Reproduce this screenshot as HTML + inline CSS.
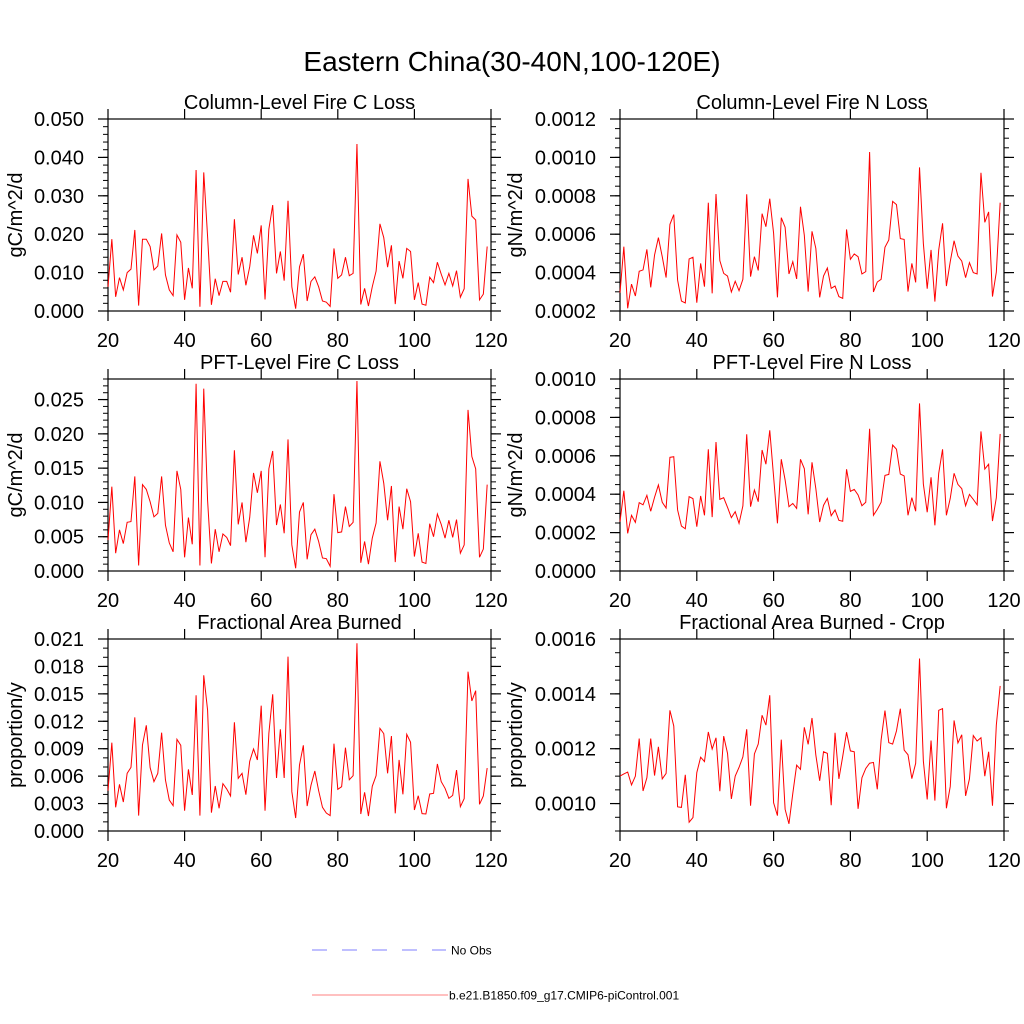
<!DOCTYPE html>
<html><head><meta charset="utf-8"><style>
body{margin:0;background:#fff}
svg{display:block;font-family:"Liberation Sans",sans-serif}
</style></head><body>
<svg id="c" width="1024" height="1024" viewBox="0 0 1024 1024">
<text x="512" y="71" font-size="28" text-anchor="middle">Eastern China(30-40N,100-120E)</text>
<g>
<line x1="312" y1="950" x2="446" y2="950" stroke="#7f7fff" stroke-width="1" stroke-dasharray="15,15"/>
<text x="451" y="954.5" font-size="12">No Obs</text>
<line x1="312" y1="995" x2="448" y2="995" stroke="#ff8080" stroke-width="1"/>
<text x="449" y="999.5" font-size="12">b.e21.B1850.f09_g17.CMIP6-piControl.001</text>
</g>
</svg>
<script>
const years = Array.from({length:100},(_,i)=>20+i);
const xTicks = [20,40,60,80,100,120];
const colCLoss = [0.0063,0.0187,0.0037,0.0087,0.0055,0.010,0.0109,0.0211,0.0014,0.0187,0.0187,0.0168,0.0107,0.0117,0.0202,0.0094,0.0055,0.004,0.0198,0.0179,0.0029,0.0112,0.0059,0.0367,0.0011,0.0361,0.0194,0.0016,0.0084,0.004,0.0077,0.0077,0.0049,0.0239,0.0095,0.014,0.0067,0.0115,0.0197,0.015,0.0223,0.003,0.0213,0.0276,0.0098,0.0155,0.0079,0.0287,0.0063,0.0006,0.0115,0.0148,0.0026,0.0077,0.0089,0.0063,0.0026,0.0023,0.0012,0.0163,0.0085,0.0094,0.014,0.0092,0.0098,0.0435,0.0017,0.0059,0.0013,0.0063,0.0104,0.0227,0.0191,0.0114,0.0171,0.0018,0.013,0.0085,0.0163,0.0155,0.0029,0.0074,0.0018,0.0015,0.0088,0.0074,0.0127,0.0096,0.0068,0.0098,0.0065,0.0105,0.0036,0.0058,0.0344,0.0247,0.0237,0.0029,0.0044,0.0168];
const colNLoss = [0.000295,0.000535,0.000214,0.00034,0.000278,0.000407,0.000414,0.000521,0.000323,0.000492,0.000582,0.000483,0.000374,0.000651,0.000702,0.000361,0.000252,0.000242,0.000471,0.00048,0.000243,0.000448,0.000327,0.000764,0.000292,0.000809,0.000462,0.000396,0.000382,0.000299,0.000355,0.000306,0.000365,0.000808,0.000379,0.000483,0.000411,0.000707,0.000639,0.000785,0.000605,0.000271,0.000686,0.000636,0.000393,0.000457,0.000367,0.000743,0.000594,0.000301,0.000615,0.000526,0.000271,0.000382,0.000424,0.000318,0.00033,0.000275,0.000266,0.000625,0.000469,0.000497,0.000483,0.000393,0.000405,0.001028,0.000299,0.000351,0.000365,0.000532,0.00057,0.000771,0.000754,0.000577,0.000573,0.000301,0.000448,0.000349,0.000948,0.000552,0.000316,0.000518,0.000249,0.000518,0.000657,0.00033,0.000457,0.000566,0.000486,0.00046,0.000374,0.000452,0.0004,0.000393,0.00092,0.000662,0.000716,0.000275,0.000403,0.000764];
const pftCLoss = [0.0045,0.0123,0.0026,0.006,0.004,0.0071,0.0072,0.0138,0.0008,0.0126,0.0119,0.0101,0.0079,0.0084,0.0138,0.0067,0.0041,0.0028,0.0146,0.0119,0.002,0.0078,0.0039,0.0273,0.0008,0.0266,0.0103,0.0011,0.0061,0.0028,0.0054,0.0049,0.0037,0.0176,0.0068,0.01,0.0042,0.0078,0.0143,0.0114,0.0146,0.002,0.0149,0.0175,0.0067,0.0097,0.0055,0.0192,0.0038,0.0004,0.0086,0.01,0.0017,0.0053,0.0061,0.0043,0.0019,0.0018,0.0007,0.0112,0.0056,0.0057,0.0094,0.0065,0.0071,0.0277,0.0012,0.0043,0.001,0.0048,0.007,0.016,0.0128,0.0074,0.0124,0.0013,0.0094,0.0061,0.012,0.0101,0.0021,0.0055,0.0013,0.0011,0.0069,0.005,0.0083,0.0068,0.0048,0.0074,0.0049,0.0075,0.0026,0.0038,0.0235,0.0167,0.0149,0.002,0.0032,0.0126];
const pftNLoss = [0.000257,0.000418,0.000196,0.00029,0.000253,0.000356,0.000345,0.000394,0.000311,0.000384,0.000448,0.000358,0.000328,0.000592,0.000595,0.000318,0.000234,0.00022,0.000387,0.000377,0.000231,0.000391,0.00029,0.000634,0.000281,0.000672,0.000373,0.000382,0.000332,0.000278,0.000309,0.000248,0.000339,0.000712,0.000335,0.000422,0.000361,0.00063,0.000556,0.000733,0.000491,0.000248,0.000582,0.000474,0.000335,0.000352,0.000326,0.000582,0.000533,0.000295,0.000566,0.000429,0.000255,0.000342,0.000378,0.000288,0.000318,0.000264,0.000259,0.00053,0.000415,0.000425,0.000396,0.00034,0.000358,0.000741,0.00029,0.000321,0.000358,0.000498,0.000503,0.000656,0.000634,0.000505,0.000495,0.00029,0.000382,0.000311,0.000873,0.000453,0.000306,0.000488,0.000238,0.000509,0.000634,0.00029,0.000378,0.000509,0.000451,0.000429,0.00034,0.000399,0.000373,0.000345,0.000727,0.000531,0.000556,0.00026,0.000382,0.000714];
const areaBurned = [0.00441,0.00966,0.00259,0.0051,0.00317,0.00631,0.00696,0.01243,0.00168,0.0094,0.01156,0.00693,0.0054,0.00631,0.01076,0.00558,0.00339,0.00277,0.01003,0.00937,0.00222,0.00674,0.00394,0.01484,0.00168,0.01703,0.01323,0.00201,0.00492,0.00248,0.00518,0.00459,0.00383,0.01189,0.00576,0.00631,0.00397,0.00762,0.00897,0.00777,0.01371,0.00222,0.01068,0.01495,0.0058,0.01112,0.0058,0.01907,0.0043,0.00142,0.00722,0.00937,0.00273,0.005,0.00656,0.00441,0.00259,0.00197,0.00168,0.00955,0.00456,0.00485,0.00911,0.00561,0.00605,0.02053,0.00186,0.00423,0.00164,0.00489,0.00605,0.01123,0.01065,0.00631,0.01039,0.00193,0.00777,0.00401,0.01057,0.0097,0.0023,0.00386,0.0019,0.00186,0.00405,0.00412,0.00733,0.0054,0.00467,0.00357,0.0039,0.00667,0.00266,0.00354,0.01743,0.01422,0.01535,0.00292,0.00383,0.00689];
const areaBurnedCrop = [0.0011005,0.001108,0.001115,0.001068,0.0011,0.001237,0.001046,0.001094,0.001237,0.001102,0.001207,0.00109,0.00111,0.00134,0.001283,0.000988,0.000986,0.001105,0.000932,0.000949,0.001113,0.001169,0.001153,0.001261,0.001199,0.00124,0.001045,0.001246,0.001183,0.001017,0.0011,0.001132,0.00117,0.001271,0.000992,0.001181,0.001217,0.001322,0.001286,0.001395,0.001003,0.000956,0.001233,0.000979,0.000926,0.001037,0.00114,0.001125,0.001278,0.001216,0.001312,0.001177,0.001083,0.001189,0.001183,0.000994,0.001258,0.00109,0.001172,0.00126,0.001192,0.001189,0.000981,0.001094,0.001128,0.001147,0.00115,0.001052,0.001232,0.001339,0.001222,0.001217,0.001265,0.001346,0.001195,0.001178,0.001091,0.001147,0.001529,0.001155,0.001015,0.00123,0.001011,0.00134,0.001346,0.000983,0.001062,0.001303,0.001221,0.001251,0.001028,0.00109,0.001248,0.001228,0.00124,0.0011,0.001189,0.000992,0.001286,0.001429];
const yTicks1 = [0,0.01,0.02,0.03,0.04,0.05];
const yTicks2 = [0.0002,0.0004,0.0006,0.0008,0.001,0.0012];
const yTicks3 = [0,0.005,0.01,0.015,0.02,0.025];
const yTicks4 = [0,0.0002,0.0004,0.0006,0.0008,0.001];
const yTicks5 = [0,0.003,0.006,0.009,0.012,0.015,0.018,0.021];
const yTicks6 = [0.001,0.0012,0.0014,0.0016];

const NS='http://www.w3.org/2000/svg';
const svg=document.getElementById('c');
function mk(tag,attrs,parent){const e=document.createElementNS(NS,tag);for(const k in attrs)e.setAttribute(k,attrs[k]);(parent||svg).appendChild(e);return e;}

const panels=[
 {name:'col-fire-c-loss',title:'Column-Level Fire C Loss',yt:'gC/m^2/d',data:colCLoss,ticks:yTicks1,ymin:0,ymax:0.05,minor:0.002,dec:3,left:true,top:119},
 {name:'col-fire-n-loss',title:'Column-Level Fire N Loss',yt:'gN/m^2/d',data:colNLoss,ticks:yTicks2,ymin:0.0002,ymax:0.0012,minor:0.00005,dec:4,left:false,top:119},
 {name:'pft-fire-c-loss',title:'PFT-Level Fire C Loss',yt:'gC/m^2/d',data:pftCLoss,ticks:yTicks3,ymin:0,ymax:0.028,minor:0.001,dec:3,left:true,top:379},
 {name:'pft-fire-n-loss',title:'PFT-Level Fire N Loss',yt:'gN/m^2/d',data:pftNLoss,ticks:yTicks4,ymin:0,ymax:0.001,minor:0.00005,dec:4,left:false,top:379},
 {name:'area-burned',title:'Fractional Area Burned',yt:'proportion/y',data:areaBurned,ticks:yTicks5,ymin:0,ymax:0.021,minor:0.001,dec:3,left:true,top:639},
 {name:'area-burned-crop',title:'Fractional Area Burned - Crop',yt:'proportion/y',data:areaBurnedCrop,ticks:yTicks6,ymin:0.0009,ymax:0.0016,minor:0.00005,dec:4,left:false,top:639}
];

panels.forEach(p=>{
 const x0=p.left?108:620, x1=p.left?491:1004, y0=p.top, y1=p.top+192;
 const g=mk('g',{});
 
 
 const xs=v=>x0+(v-20)/100*(x1-x0);
 const ys=v=>y1-(v-p.ymin)/(p.ymax-p.ymin)*(y1-y0);
 const nMin=Math.round((p.ymax-p.ymin)/p.minor);
 for(let k=0;k<=nMin;k++){const v=p.ymin+k*p.minor;const y=ys(v);
  mk('line',{x1:x0-5,y1:y,x2:x0,y2:y,stroke:'#000','stroke-width':1},g);
  mk('line',{x1:x1,y1:y,x2:x1+5,y2:y,stroke:'#000','stroke-width':1},g);}
 p.ticks.forEach(v=>{const y=ys(v);
  mk('line',{x1:x0-10,y1:y,x2:x0,y2:y,stroke:'#000','stroke-width':1.2},g);
  mk('line',{x1:x1,y1:y,x2:x1+10,y2:y,stroke:'#000','stroke-width':1.2},g);
  const t=mk('text',{x:x0-24,y:y+7,'font-size':20,'text-anchor':'end'},g);
  t.textContent=v.toFixed(p.dec);
  
  
 });
 xTicks.forEach(v=>{const x=xs(v);
  mk('line',{x1:x,y1:y0-10,x2:x,y2:y0,stroke:'#000','stroke-width':1.2},g);
  mk('line',{x1:x,y1:y1,x2:x,y2:y1+10,stroke:'#000','stroke-width':1.2},g);
  const t=mk('text',{x:x,y:y1+36,'font-size':20,'text-anchor':'middle'},g);
  t.textContent=v;
  
  
 });
 const r=mk('rect',{x:x0,y:y0,width:x1-x0,height:y1-y0,fill:'none',stroke:'#000','stroke-width':1.2},g);
 
 
 const pts=p.data.map((v,i)=>xs(years[i]).toFixed(2)+','+ys(v).toFixed(2)).join(' ');
 const pl=mk('polyline',{points:pts,fill:'none',stroke:'#ff0000','stroke-width':1},g);
 
 
 const tt=mk('text',{x:(x0+x1)/2,y:y0-10,'font-size':20,'text-anchor':'middle'},g);
 tt.textContent=p.title;
 
 
 const ax=p.left?22:522, ay=(y0+y1)/2;
 const yt=mk('text',{x:ax,y:ay,'font-size':20,'text-anchor':'middle',transform:'rotate(-90 '+ax+' '+ay+')'},g);
 yt.textContent=p.yt;
 
 
});
</script>
</body></html>
